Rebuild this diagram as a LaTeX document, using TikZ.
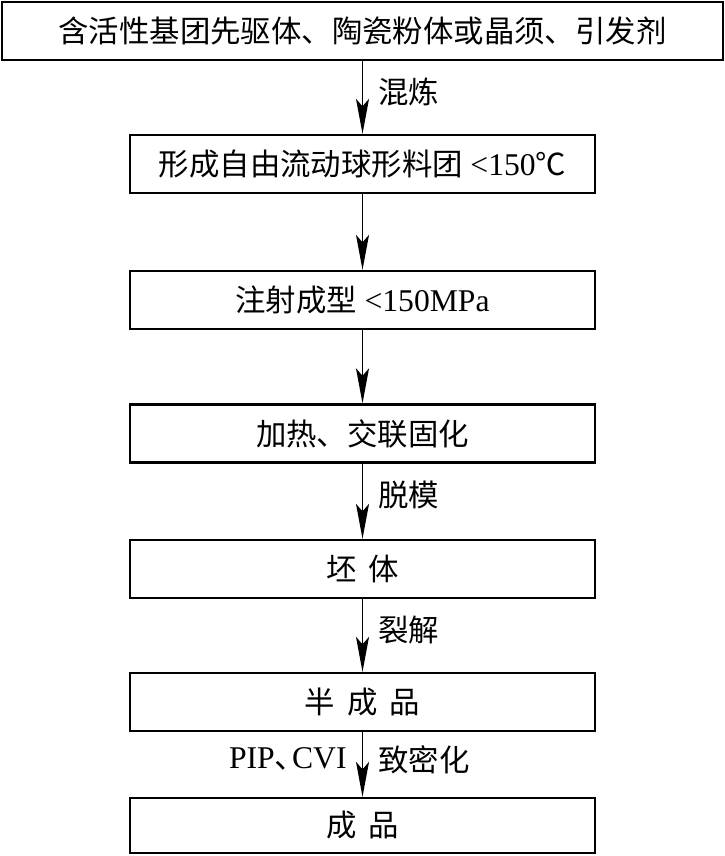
\documentclass[tikz,border=0pt]{standalone}
\usepackage{fontspec}
\setmainfont{Liberation Serif}
\newfontfamily\cjk{Noto Sans CJK SC}
\usetikzlibrary{arrows.meta}

\begin{document}
\begin{tikzpicture}[
    box/.style={draw, line width=1.3pt, minimum width=9.3cm, minimum height=1.16cm,
        inner sep=0pt, font=\fontsize{17.3pt}{20pt}\selectfont},
    flow/.style={line width=1pt, -{Stealth[length=0.7cm,width=0.26cm,inset=0.15cm]}},
    lbl/.style={pos=0.42, inner sep=0.3cm, font=\fontsize{17.3pt}{20pt}\selectfont}]
    \useasboundingbox (0,0) rectangle (14.5,-17.12);

    \node[box, minimum width=14.42cm] (mix) at (7.25,-0.62)
        {\cjk 含活性基团先驱体、陶瓷粉体或晶须、引发剂};
    \node[box] (dough) at (7.25,-3.28) {{\cjk 形成自由流动球形料团} {\fontsize{18pt}{20pt}\selectfont <150}{\cjk ℃}};
    \node[box] (inject) at (7.25,-6.0) {{\cjk 注射成型} {\fontsize{18pt}{20pt}\selectfont <150MPa}};
    \node[box] (cure) at (7.25,-8.67) {\cjk 加热、交联固化};
    \node[box] (green) at (7.25,-11.38) {\cjk 坯\hspace{.4em}体};
    \node[box] (semi) at (7.25,-14.04) {\cjk 半\hspace{.4em}成\hspace{.4em}品};
    \node[box, minimum height=1.1cm] (final) at (7.25,-16.51) {\cjk 成\hspace{.4em}品};

%   arrows between steps
    \draw[flow] (mix) -- node[lbl, right] {\cjk 混炼} (dough);
    \draw[flow] (dough) -- (inject);
    \draw[flow] (inject) -- (cure);
    \draw[flow] (cure) -- node[lbl, right] {\cjk 脱模} (green);
    \draw[flow] (green) -- node[lbl, right] {\cjk 裂解} (semi);
    \draw[flow] (semi) -- node[lbl, right] {\cjk 致密化}
        node[lbl, left] {\fontsize{18pt}{20pt}\selectfont PIP{\cjk 、}\kern-.45em CVI} (final);
\end{tikzpicture}
\end{document}
